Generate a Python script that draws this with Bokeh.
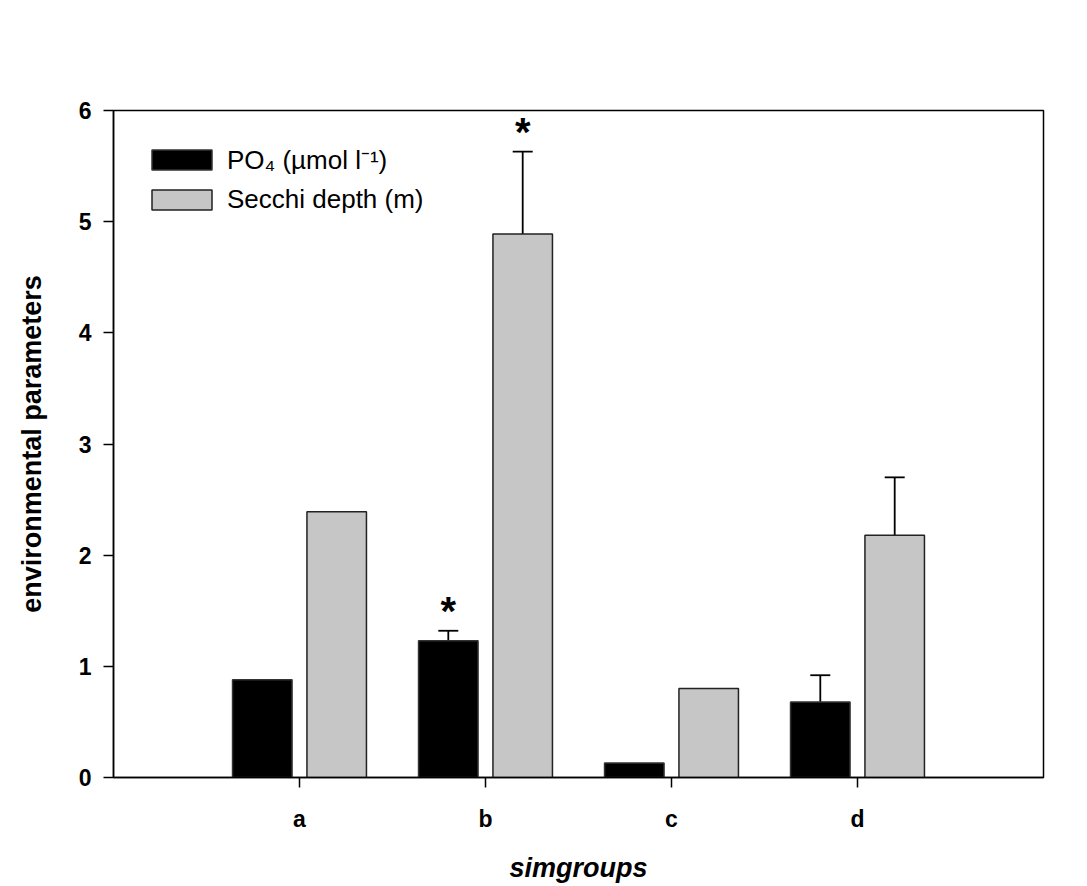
import numpy as np
from bokeh.plotting import figure
from bokeh.models import (ColumnDataSource, Range1d, FixedTicker, Whisker, TeeHead,
                          Legend, LegendItem)
from bokeh.core.properties import value
from bokeh.embed import file_html
from bokeh.resources import INLINE

# ---- data ----
groups = ["a", "b", "c", "d"]
po4 = [0.88, 1.23, 0.13, 0.68]
po4_err = [0.0, 0.09, 0.0, 0.24]
secchi = [2.39, 4.89, 0.80, 2.18]
secchi_err = [0.0, 0.74, 0.0, 0.52]
po4_sig = [False, True, False, False]
secchi_sig = [False, True, False, False]
y_ticks = [0, 1, 2, 3, 4, 5, 6]

FONT = "Liberation Sans"
pos = np.arange(1, len(groups) + 1)
offset = 0.2
bw = 0.32

p = figure(width=1087, height=886, output_backend="svg", toolbar_location=None,
           x_range=Range1d(0, 5), y_range=Range1d(0, 6),
           min_border_left=113, min_border_right=44, min_border_top=110, min_border_bottom=109)

src_p = ColumnDataSource(dict(x=pos - offset, top=po4))
src_s = ColumnDataSource(dict(x=pos + offset, top=secchi))

r_p = p.vbar(x="x", top="top", width=bw, bottom=0, source=src_p,
             fill_color="black", line_color="#333333", line_width=1.5)
r_s = p.vbar(x="x", top="top", width=bw, bottom=0, source=src_s,
             fill_color="#c6c6c6", line_color="#222222", line_width=1.5)

# error bars (upper only)
for xs, vals, errs in [(pos - offset, po4, po4_err), (pos + offset, secchi, secchi_err)]:
    m = np.array(errs) > 0
    es = ColumnDataSource(dict(base=np.array(xs)[m], lower=np.array(vals)[m],
                               upper=(np.array(vals) + np.array(errs))[m]))
    w = Whisker(source=es, base="base", lower="lower", upper="upper",
                line_color="black", line_width=1.8,
                upper_head=TeeHead(size=20, line_color="black", line_width=1.8),
                lower_head=None)
    p.add_layout(w)

# significance stars
sx, sy = [], []
for xs, vals, errs, sig in [(pos - offset, po4, po4_err, po4_sig),
                            (pos + offset, secchi, secchi_err, secchi_sig)]:
    for i in range(len(groups)):
        if sig[i]:
            sx.append(xs[i]); sy.append(vals[i] + errs[i])
p.text(x=sx, y=sy, text=["*"] * len(sx), text_font=value(FONT), text_font_style="bold",
       text_font_size="40px", text_align="center", text_baseline="alphabetic",
       y_offset=-20, text_color="black")

# axes
p.xgrid.visible = False
p.ygrid.visible = False
p.outline_line_color = "black"
p.outline_line_width = 1.5

p.xaxis.ticker = FixedTicker(ticks=list(pos))
p.xaxis.major_label_overrides = {int(k): g for k, g in zip(pos, groups)}
p.xaxis.axis_label = "simgroups"
p.yaxis.ticker = FixedTicker(ticks=y_ticks)
p.yaxis.axis_label = "environmental parameters"

for ax in (p.xaxis[0], p.yaxis[0]):
    ax.axis_line_color = "black"
    ax.axis_line_width = 1.5
    ax.major_tick_line_color = "black"
    ax.major_tick_line_width = 1.5
    ax.major_tick_in = 0
    ax.major_tick_out = 10
    ax.minor_tick_line_color = None
    ax.major_label_text_font = FONT
    ax.major_label_text_font_style = "bold"
    ax.major_label_text_font_size = "23px"
    ax.major_label_text_color = "black"
    ax.axis_label_text_font = FONT
    ax.axis_label_text_color = "black"

p.xaxis.major_label_standoff = 18
p.xaxis.axis_label_text_font_style = "bold italic"
p.xaxis.axis_label_text_font_size = "27px"
p.xaxis.axis_label_standoff = 18
p.yaxis.major_label_standoff = 12
p.yaxis.axis_label_text_font_style = "bold"
p.yaxis.axis_label_text_font_size = "27px"
p.yaxis.axis_label_standoff = 29

legend = Legend(items=[LegendItem(label="PO\u2084 (\u00b5mol l\u207b\u00b9)", renderers=[r_p]),
                       LegendItem(label="Secchi depth (m)", renderers=[r_s])],
                location=(31, 562), orientation="vertical",
                glyph_width=75, glyph_height=25, label_standoff=8, spacing=7,
                padding=0, margin=0, border_line_alpha=0, background_fill_alpha=0,
                label_text_font=FONT, label_text_font_size="26px", label_height=25,
                label_text_color="black")
p.add_layout(legend)

open("out.html", "w").write(file_html(p, INLINE))
